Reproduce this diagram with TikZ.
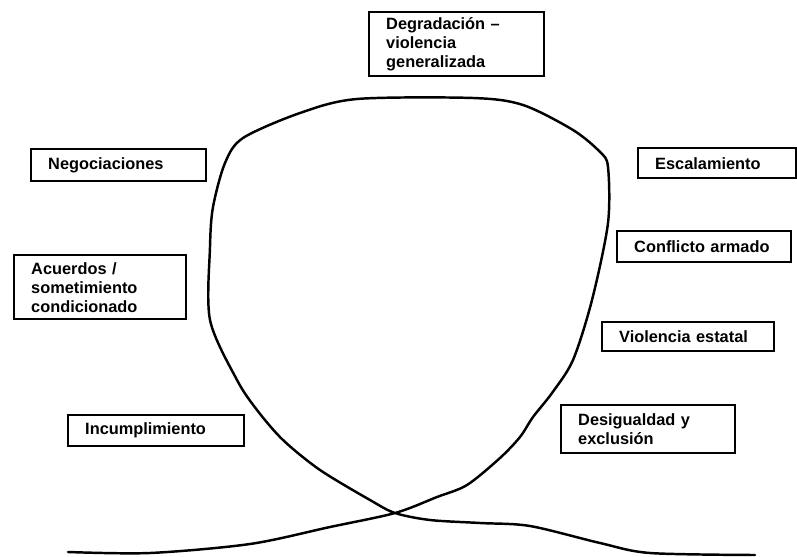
\documentclass[tikz,border=0pt]{standalone}
\usepackage{fontspec}
\setmainfont{Liberation Sans}
\usepackage{tikz}

\begin{document}
\begin{tikzpicture}[x=0.02cm, y=-0.02cm,
    etapa/.style={draw, line width=1.4pt, anchor=north west, align=left,
      inner xsep=0.34cm, inner ysep=0pt,
      font=\fontsize{9.3}{10.8}\selectfont\bfseries},
    ciclo/.style={line width=1.4pt, line cap=round, line join=round}]

        \useasboundingbox (0,0) rectangle (797,557);

        %Degradacion
        \node [etapa, text width=2.82cm, minimum height=1.28cm] (degr) at (368,11)
          {Degradación –\\violencia\\generalizada};
        %Negociaciones
        \node [etapa, text width=2.82cm, minimum height=0.64cm] (neg)  at (30,148)
          {Negociaciones};
        %Acuerdos
        \node [etapa, text width=2.76cm, minimum height=1.28cm] (acu)  at (13,254)
          {Acuerdos /\\sometimiento\\condicionado};
        %Incumplimiento
        \node [etapa, text width=2.84cm, minimum height=0.62cm] (inc)  at (67,414)
          {Incumplimiento};
        %Escalamiento
        \node [etapa, text width=2.48cm, minimum height=0.60cm] (esc)  at (637,147)
          {Escalamiento};
        %Conflicto
        \node [etapa, text width=2.80cm, minimum height=0.62cm] (conf) at (616,230)
          {Conflicto armado};
        %Violencia
        \node [etapa, text width=2.76cm, minimum height=0.58cm] (viol) at (601,321)
          {Violencia estatal};
        %Desigualdad
        \node [etapa, text width=2.80cm, minimum height=0.96cm] (des)  at (560,404)
          {Desigualdad y\\exclusión};

        %Ciclo
        \draw [ciclo] plot [smooth, tension=0.5] coordinates {
          (68,552) (150,553) (250,544) (330,527) (395,513) (437,497)
          (467,485) (500,458) (520,437) (533,417) (552,393) (573,360)
          (592,300) (608,223) (608,167) (600,152) (573,130) (523,105)
          (473,98) (357,99) (300,113) (243,138) (225,163) (213,207)
          (210,247) (210,320) (237,380) (257,410) (283,440) (320,470)
          (370,500) (395,513) (430,520) (480,523) (530,526) (600,543)
          (650,553) (755,555)};
\end{tikzpicture}
\end{document}
